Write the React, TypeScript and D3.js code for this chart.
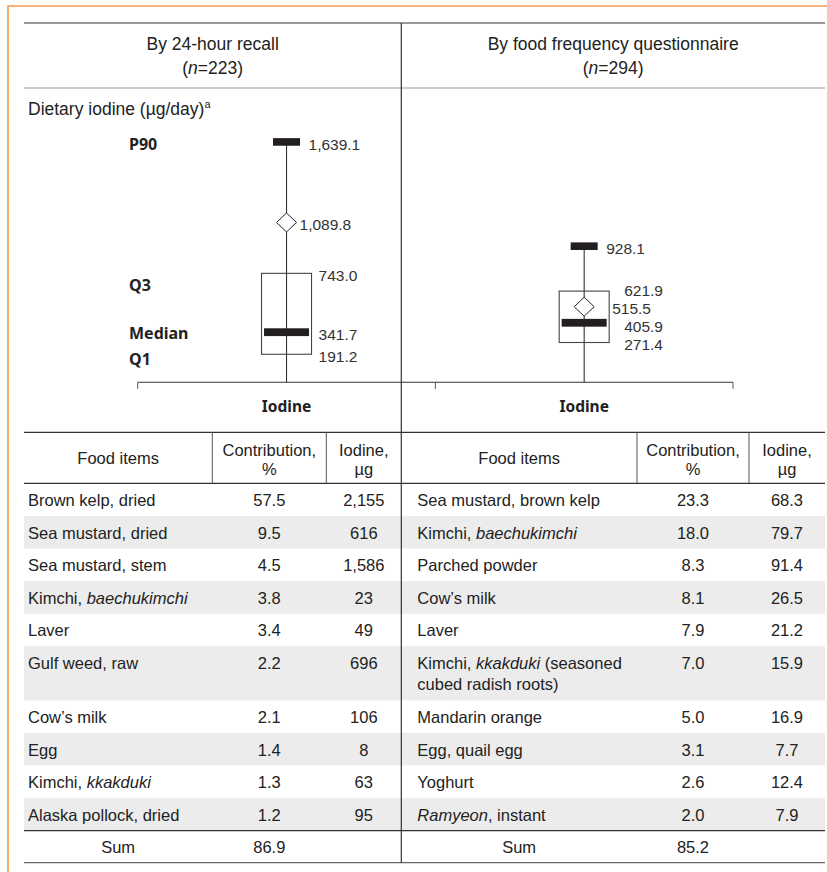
import * as d3 from "d3";

const panels = ["By 24-hour recall", "By food frequency questionnaire"];
const sampleSizes = [223, 294];
const p90Values = [1639.1, 928.1];
const meanValues = [1089.8, 515.5];
const q3Values = [743.0, 621.9];
const medianValues = [341.7, 405.9];
const q1Values = [191.2, 271.4];
const statNames = ["P90", "Q3", "Median", "Q1"];
const axisLabel = "Iodine";

const recallFoods = [
  "Brown kelp, dried",
  "Sea mustard, dried",
  "Sea mustard, stem",
  "Kimchi, _baechukimchi_",
  "Laver",
  "Gulf weed, raw",
  "Cow’s milk",
  "Egg",
  "Kimchi, _kkakduki_",
  "Alaska pollock, dried",
];
const recallContribution = [57.5, 9.5, 4.5, 3.8, 3.4, 2.2, 2.1, 1.4, 1.3, 1.2];
const recallIodine = [2155, 616, 1586, 23, 49, 696, 106, 8, 63, 95];

const ffqFoods = [
  "Sea mustard, brown kelp",
  "Kimchi, _baechukimchi_",
  "Parched powder",
  "Cow’s milk",
  "Laver",
  "Kimchi, _kkakduki_ (seasoned\ncubed radish roots)",
  "Mandarin orange",
  "Egg, quail egg",
  "Yoghurt",
  "_Ramyeon_, instant",
];
const ffqContribution = [23.3, 18.0, 8.3, 8.1, 7.9, 7.0, 5.0, 3.1, 2.6, 2.0];
const ffqIodine = [68.3, 79.7, 91.4, 26.5, 21.2, 15.9, 16.9, 7.7, 12.4, 7.9];
const contributionSums = [86.9, 85.2];

// layout
const W = 827;
const H = 872;
const tableLeft = 24;
const tableRight = 825;
const midX = 401.3;
const topY = 23;
const headY = 88;
const axisY = 382.3;
const tHeadTop = 432.3;
const tHeadBottom = 483.3;
const rowH = 32.6;
const doubleRowH = 54;
const sumH = 32;
const leftCols = [tableLeft, 212.3, 326.3, midX];
const rightCols = [midX, 637, 749, tableRight];
const foodIndent = [4, 16];
const qLabelGap = [32, 40];

const tableFont = "'Liberation Sans', Arial, sans-serif";
const chartFont = "'Noto Sans', 'Open Sans', sans-serif";
const ink = "#231f20";

function rich(s: string) {
  return s.split("_").map((part, i) => (
    <tspan key={i} fontStyle={i % 2 === 1 ? "italic" : "normal"}>
      {part}
    </tspan>
  ));
}

// push label centres apart so that neighbours keep at least `gap` px
function spread(ys: number[], gap: number) {
  const out = [...ys];
  const order = ys.map((_, i) => i).sort((a, b) => ys[a] - ys[b]);
  for (let it = 0; it < 30; it++) {
    for (let k = 1; k < order.length; k++) {
      const a = order[k - 1];
      const b = order[k];
      const d = out[b] - out[a];
      if (d < gap) {
        const s = (gap - d) / 2;
        out[a] -= s;
        out[b] += s;
      }
    }
  }
  return out;
}

export default function App() {
  const x = d3.scaleBand().domain(panels).range([137.7, 733]).padding(0);
  const y = d3.scaleLinear().domain([0, 1700]).range([axisY, 133]);
  const fmt1 = d3.format(".1f");
  const fmtInt = d3.format(",");

  const boundaries = [...panels.map((p) => x(p) as number), x.range()[1]];

  // row geometry
  const rowTops: number[] = [];
  const rowHeights: number[] = [];
  let cursor = tHeadBottom;
  recallFoods.forEach((f, i) => {
    const h = f.includes("\n") || ffqFoods[i].includes("\n") ? doubleRowH : rowH;
    rowTops.push(cursor);
    rowHeights.push(h);
    cursor += h;
  });
  const sumTop = cursor;
  const sumBottom = sumTop + sumH;

  const sides = [
    { cols: leftCols, foods: recallFoods, contrib: recallContribution, iod: recallIodine.map(fmtInt) },
    { cols: rightCols, foods: ffqFoods, contrib: ffqContribution, iod: ffqIodine.map(fmt1) },
  ];

  const stats = [p90Values, q3Values, medianValues, q1Values];
  const statDy = [2, 12, 1, 5];

  return (
    <svg
      width={W}
      height={H}
      style={{ position: "absolute", left: 0, top: 0, display: "block", background: "#fff" }}
    >
      <rect x={0} y={0} width={W} height={H} fill="#fff" />
      {/* orange frame */}
      <path d={`M8,${H} V6 H${W}`} fill="none" stroke="#f79a4c" strokeWidth={1.6} />

      {/* shaded rows */}
      {rowTops.map((t, i) =>
        i % 2 === 1 ? (
          <rect key={i} x={tableLeft} y={t} width={tableRight - tableLeft} height={rowHeights[i]} fill="#ececec" />
        ) : null
      )}

      {/* header */}
      <line x1={tableLeft} x2={tableRight} y1={topY} y2={topY} stroke="#777" strokeWidth={1.5} />
      <line x1={tableLeft} x2={tableRight} y1={headY} y2={headY} stroke="#999" strokeWidth={1} />
      {panels.map((p, i) => {
        const cx = i === 0 ? (tableLeft + midX) / 2 : (midX + tableRight) / 2;
        return (
          <g key={p} fontFamily={tableFont} fontSize={17.5} fill="#222" textAnchor="middle">
            <text x={cx} y={50}>{p}</text>
            <text x={cx} y={74}>
              (<tspan fontStyle="italic">n</tspan>={sampleSizes[i]})
            </text>
          </g>
        );
      })}
      <text x={28} y={115} fontFamily={tableFont} fontSize={17.5} fill="#222">
        Dietary iodine (µg/day)
        <tspan fontSize={11} dy={-7}>a</tspan>
      </text>

      {/* box plots */}
      <g fontFamily={chartFont}>
        {statNames.map((s, k) => (
          <text
            key={s}
            x={129}
            y={y(stats[k][0]) + statDy[k]}
            dy="0.36em"
            fontSize={16}
            fontWeight={700}
            fill="#222"
          >
            {s}
          </text>
        ))}
        {panels.map((p, i) => {
          const cx = (x(p) as number) + x.bandwidth() / 2;
          const boxL = cx - 25;
          const boxR = cx + 25;
          const yp90 = y(p90Values[i]);
          const ymean = y(meanValues[i]);
          const yq3 = y(q3Values[i]);
          const ymed = y(medianValues[i]);
          const yq1 = y(q1Values[i]);
          const meanInBox = meanValues[i] <= q3Values[i] && meanValues[i] >= q1Values[i];
          const meanLabelX = meanInBox ? boxR + 3 : cx + 13;
          const qx = cx + qLabelGap[i];
          const labels = [
            { x: cx + 22, y: yp90, t: fmtInt(p90Values[i]) },
            { x: meanLabelX, y: ymean, t: d3.format(",.1f")(meanValues[i]) },
            { x: qx, y: yq3, t: fmt1(q3Values[i]) },
            { x: qx, y: ymed, t: fmt1(medianValues[i]) },
            { x: qx, y: yq1, t: fmt1(q1Values[i]) },
          ];
          const ly = spread(labels.map((l) => l.y + 2), 18);
          return (
            <g key={p}>
              <line x1={cx} x2={cx} y1={yp90} y2={axisY} stroke="#333" strokeWidth={1.1} />
              <rect x={boxL} y={yq3} width={50} height={yq1 - yq3} fill="none" stroke="#444" strokeWidth={1.1} />
              <rect x={cx - 13.5} y={yp90 - 3.8} width={27} height={7.6} fill={ink} />
              <rect x={cx - 22.5} y={ymed - 3.9} width={45} height={7.8} fill={ink} />
              <path
                d={`M${cx},${ymean - 9.5} L${cx + 10},${ymean} L${cx},${ymean + 9.5} L${cx - 10},${ymean} Z`}
                fill="#fff"
                stroke="#222"
                strokeWidth={1}
              />
              <g fontSize={15.5} fill="#333" fontFamily={tableFont}>
                {labels.map((l, k) => (
                  <text key={k} x={l.x} y={ly[k]} dy="0.36em">
                    {l.t}
                  </text>
                ))}
              </g>
              <text x={cx} y={411.5} textAnchor="middle" fontSize={15.5} fontWeight={700} fill="#222">
                {axisLabel}
              </text>
            </g>
          );
        })}
        {/* axis */}
        <line x1={boundaries[0]} x2={boundaries[boundaries.length - 1]} y1={axisY} y2={axisY} stroke="#333" strokeWidth={1.1} />
        {boundaries.map((b, i) => (
          <line key={i} x1={b} x2={b} y1={axisY} y2={axisY + 6.5} stroke="#555" strokeWidth={1} />
        ))}
      </g>

      {/* table */}
      <line x1={tableLeft} x2={tableRight} y1={tHeadTop} y2={tHeadTop} stroke="#333" strokeWidth={1.2} />
      <line x1={tableLeft} x2={tableRight} y1={tHeadBottom} y2={tHeadBottom} stroke="#333" strokeWidth={1.2} />
      <line x1={tableLeft} x2={tableRight} y1={sumTop} y2={sumTop} stroke="#333" strokeWidth={1.2} />
      <line x1={tableLeft} x2={tableRight} y1={sumBottom} y2={sumBottom} stroke="#666" strokeWidth={1.2} />

      {sides.map((sd, si) => {
        const c = sd.cols;
        const mid = (a: number, b: number) => (a + b) / 2;
        return (
          <g key={si} fontFamily={tableFont} fontSize={16.5} fill="#222">
            {[1, 2].map((k) => (
              <line key={k} x1={c[k]} x2={c[k]} y1={tHeadTop} y2={tHeadBottom} stroke="#555" strokeWidth={1} />
            ))}
            <g textAnchor="middle">
              <text x={mid(c[0], c[1])} y={464}>Food items</text>
              <text x={mid(c[1], c[2])} y={456}>Contribution,</text>
              <text x={mid(c[1], c[2])} y={475}>%</text>
              <text x={mid(c[2], c[3])} y={456}>Iodine,</text>
              <text x={mid(c[2], c[3])} y={475}>µg</text>
            </g>
            {sd.foods.map((f, i) => {
              const base = rowTops[i] + 22.7;
              return (
                <g key={i}>
                  {f.split("\n").map((line, li) => (
                    <text key={li} x={c[0] + foodIndent[si]} y={base + li * 21}>
                      {rich(line)}
                    </text>
                  ))}
                  <text x={mid(c[1], c[2])} y={base} textAnchor="middle">{fmt1(sd.contrib[i])}</text>
                  <text x={mid(c[2], c[3])} y={base} textAnchor="middle">{sd.iod[i]}</text>
                </g>
              );
            })}
            <text x={mid(c[0], c[1])} y={sumTop + 22} textAnchor="middle">Sum</text>
            <text x={mid(c[1], c[2])} y={sumTop + 22} textAnchor="middle">{fmt1(contributionSums[si])}</text>
          </g>
        );
      })}

      <line x1={midX} x2={midX} y1={topY} y2={sumBottom} stroke="#333" strokeWidth={1.2} />
    </svg>
  );
}
